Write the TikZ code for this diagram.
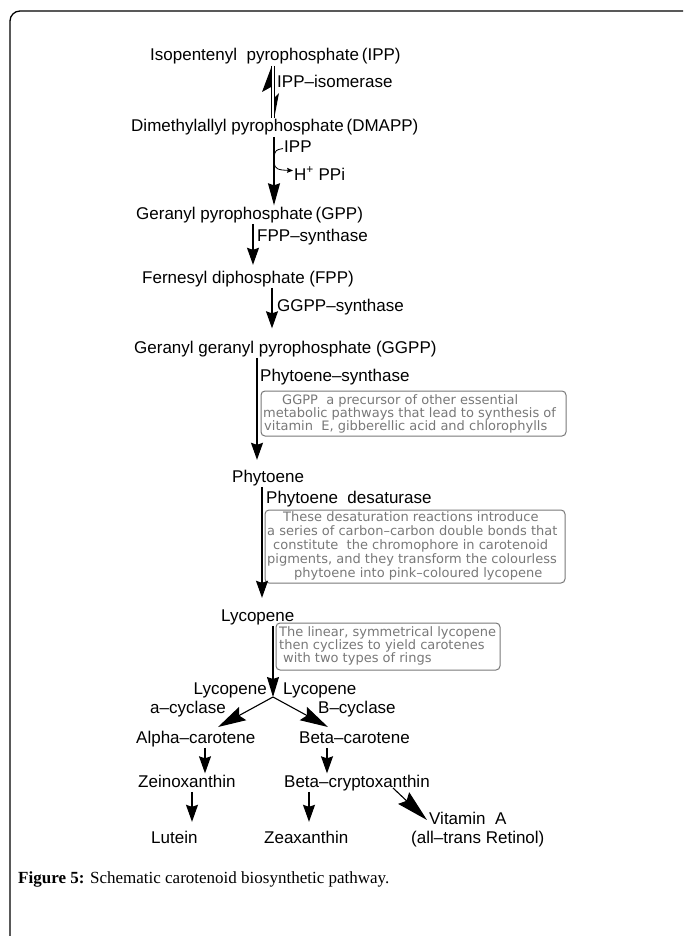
\documentclass[tikz,border=0pt]{standalone}
\usepackage{fontspec}
\setmainfont{Liberation Serif}
\newfontfamily\labfont{Liberation Sans}
\newfontfamily\notefont{DejaVu Sans}
\usetikzlibrary{arrows.meta,calc}
\definecolor{notegray}{RGB}{120,120,120}
\begin{document}
\begin{tikzpicture}[x=1pt,y=-1pt,
  lab/.style={font=\labfont\fontsize{17}{20}\selectfont, inner sep=1pt, text height=12.5pt, text depth=3.6pt, anchor=base west},
  note/.style={font=\notefont\fontsize{13}{14}\selectfont, text=notegray, inner sep=0pt, anchor=base west},
  notebox/.style={draw=notegray, rounded corners=4pt, line width=1pt, inner sep=0pt},
  arr/.style={line width=1.1pt, -{Stealth[length=17pt,width=12pt,inset=2pt]}},
  bigarr/.style={line width=1.1pt, -{Stealth[length=28pt,width=15pt,inset=4pt]}},
  thinarr/.style={line width=0.8pt, -{Stealth[length=6pt,width=5pt,inset=1pt]}},
  pline/.style={line width=1.1pt}]
\useasboundingbox (0,0) rectangle (683,936);
% frame
\draw[line width=1.3pt, rounded corners=10pt] (10,936) -- (10,11) -- (683,11);

% x positions of vertical connectors
\coordinate (xa) at (271.5,0);
\coordinate (xb) at (274.5,0);
\coordinate (xc) at (274,0);
\coordinate (xd) at (253,0);
\coordinate (xe) at (272,0);
\coordinate (xf) at (257,0);
\coordinate (xg) at (262,0);
\coordinate (xh) at (273,0);
\coordinate (xi) at (205,0);
\coordinate (xj) at (327,0);
\coordinate (xk) at (192,0);
\coordinate (xl) at (309,0);

% labels
\node[lab] (ipp) at (149,61) {Isopentenyl\ \ pyrophosphate\,(IPP)};
\node[lab] (isom) at (276,88) {IPP–isomerase};
\node[lab] (dmapp) at (130,132) {Dimethylallyl pyrophosphate\,(DMAPP)};
\node[lab] (ippin) at (283,153) {IPP};
\node[lab] (hppi) at (293,180) {H\textsuperscript{+} PPi};
\node[lab] (gpp) at (135,219) {Geranyl pyrophosphate\,(GPP)};
\node[lab] (fpps) at (256,241) {FPP–synthase};
\node[lab] (fpp) at (141,283) {Fernesyl diphosphate (FPP)};
\node[lab] (ggpps) at (276,311) {GGPP–synthase};
\node[lab] (ggpp) at (133,353) {Geranyl geranyl pyrophosphate (GGPP)};
\node[lab] (phs) at (259,381) {Phytoene–synthase};
\node[lab] (phy) at (231,482) {Phytoene};
\node[lab] (phd) at (265,503) {Phytoene\ \ desaturase};
\node[lab] (lyc) at (220,621) {Lycopene};
\node[lab, anchor=base east] (lyca) at (268,694) {Lycopene};
\node[lab] (lycb) at (282,694) {Lycopene};
\node[lab] (acyc) at (149,713) {a–cyclase};
\node[lab] (bcyc) at (317,713) {B–cyclase};
\node[lab] (alpha) at (135,743) {Alpha–carotene};
\node[lab] (beta) at (298,743) {Beta–carotene};
\node[lab] (zein) at (137,787) {Zeinoxanthin};
\node[lab] (bcryp) at (283,787) {Beta–cryptoxanthin};
\node[lab] (vita) at (428,824) {Vitamin\ \ A};
\node[lab] (retinol) at (410,843) {(all–trans Retinol)};
\node[lab] (lutein) at (150,843) {Lutein};
\node[lab] (zea) at (263,843) {Zeaxanthin};

% note boxes
\node[notebox, minimum width=305pt, minimum height=45pt] (box1) at (413.5,413.5) {};
\node[note] (b1a) at (282,404) {GGPP\ \ a precursor of other essential};
\node[note] (b1b) at (263,417) {metabolic pathways that lead to synthesis of};
\node[note] (b1c) at (264,430) {vitamin\ \ E, gibberellic acid and chlorophylls};

\node[notebox, minimum width=300pt, minimum height=73pt] (box2) at (415,546.5) {};
\node[note] (b2a) at (283,521) {These desaturation reactions introduce};
\node[note] (b2b) at (267,535) {a series of carbon–carbon double bonds that};
\node[note] (b2c) at (273,549) {constitute\ \ the chromophore in carotenoid};
\node[note] (b2d) at (267,563) {pigments, and they transform the colourless};
\node[note] (b2e) at (294,577) {phytoene into pink–coloured lycopene};

\node[notebox, minimum width=224pt, minimum height=47pt] (box3) at (388,646.5) {};
\node[note] (b3a) at (279,636) {The linear, symmetrical lycopene};
\node[note] (b3b) at (279,649) {then cyclizes to yield carotenes};
\node[note] (b3c) at (283,662) {with two types of rings};

% IPP <-> DMAPP equilibrium
\draw[pline] (ipp.south -| xa) -- (dmapp.north -| xa);
\draw[pline] (ipp.south -| xb) -- (dmapp.north -| xb);
\fill (271,68) -- (262,92) -- (271,87) -- cycle;
\fill (275,114) -- (279,93) -- (275,97) -- cycle;

% DMAPP -> GPP with side reactants
\draw[line width=1.1pt, -{Stealth[length=22pt,width=12pt,inset=2pt]}] (dmapp.south -| xc) -- (gpp.north -| xc);
\draw[line width=0.8pt] (274,157) .. controls (275.5,150) .. (ippin.west);
\draw[thinarr] (274,163) .. controls (275,169) and (278,170) .. ($(hppi.west)+(0,-5)$);

% main chain
\draw[arr, shorten >=4.5pt] (gpp.south -| xd) -- (fpp.north -| xd);
\draw[arr, shorten >=11pt] (fpp.south -| xe) -- (ggpp.north -| xe);
\draw[arr, shorten >=8.5pt] (ggpp.south -| xf) -- (phy.north -| xf);
\draw[arr, shorten >=9.5pt] (phy.south -| xg) -- (lyc.north -| xg);

\coordinate (junc) at (273,697);
\coordinate (tipL) at (218,727);
\coordinate (tipR) at (328,727);
\draw[arr, -{Stealth[length=20pt,width=12pt,inset=2pt]}] (lyc.south -| xh) -- (junc);
\draw[bigarr] (junc) -- (tipL);
\draw[bigarr] (junc) -- (tipR);

\draw[arr] (alpha.south -| xi) -- (zein.north -| xi);
\draw[arr] (beta.south -| xj) -- (bcryp.north -| xj);
\draw[arr, shorten >=7.5pt] (zein.south -| xk) -- (lutein.north -| xk);
\draw[arr, shorten >=7.5pt] (bcryp.south -| xl) -- (zea.north -| xl);
\coordinate (vs) at (393,788);
\coordinate (vt) at (427,820);
\draw[line width=1.1pt, -{Stealth[length=32pt,width=16pt,inset=4pt]}] (vs) -- (vt);

% caption
\node[anchor=base west, inner sep=0pt, font=\fontsize{17}{20}\selectfont] (cap) at (18,883) {\textbf{Figure 5:} Schematic carotenoid biosynthetic pathway.};
\end{tikzpicture}
\end{document}
